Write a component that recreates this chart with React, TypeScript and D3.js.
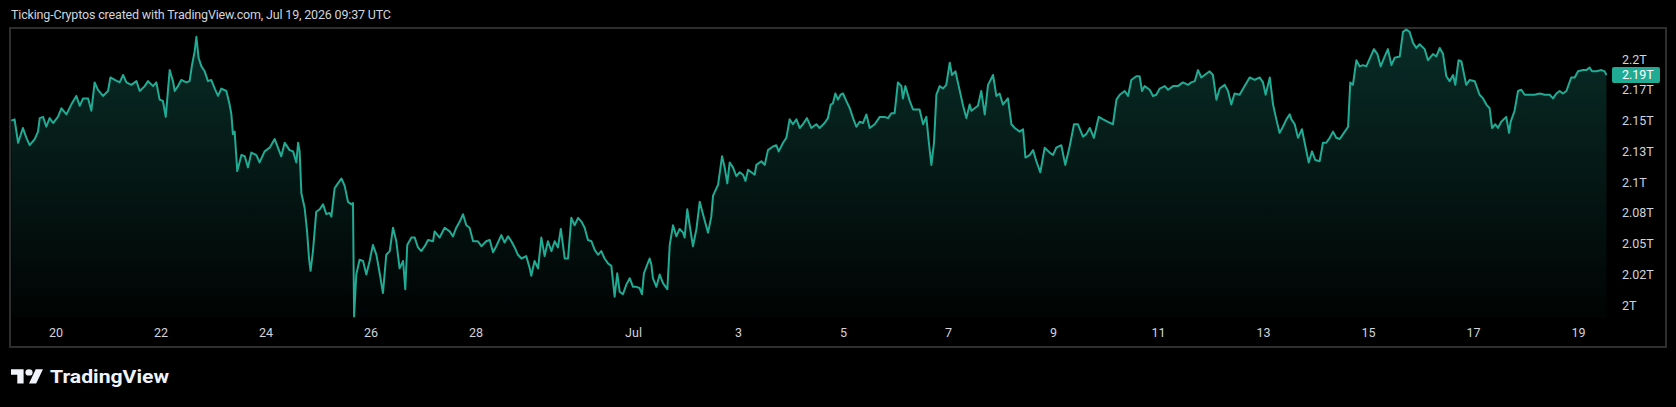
import * as d3 from "d3";
import React, { useEffect, useRef } from "react";

const WIDTH = 1676;
const HEIGHT = 407;

const START = Date.UTC(2026, 5, 19);
const JUL1 = Date.UTC(2026, 6, 1);

// hours since Jun 19 00:00 UTC
const hours = [
  3.8, 5.3, 6.9, 9.1, 10.7, 12.2, 14.5, 16.0, 16.8, 18.3, 19.8, 21.3, 22.9, 25.1, 26.7, 29.0, 31.2, 33.5, 35.1, 36.6,
  38.9, 40.4, 41.9, 43.4, 45.7, 48.0, 49.1, 51.1, 53.3, 54.9, 56.4, 58.7, 61.0, 62.5, 64.8, 66.3, 68.6, 70.1, 71.6, 73.1,
  74.4, 76.2, 77.7, 78.5, 80.0, 81.5, 83.8, 85.3, 86.4, 87.6, 88.4, 89.4, 90.7, 92.2, 93.7, 95.2, 96.8, 98.3, 99.8, 102.1,
  103.6, 104.4, 105.1, 105.9, 107.1, 109.0, 110.5, 112.0, 113.5, 115.8, 117.3, 119.6, 121.9, 124.2, 125.7, 127.2, 128.8, 131.0, 132.6, 134.1,
  134.9, 135.6, 136.4, 137.9, 139.0, 139.9, 140.6, 141.7, 143.2, 144.8, 146.3, 147.8, 149.3,
  150.1, 151.6, 153.1, 154.7, 156.2, 157.7, 159.2, 160.0, 160.5, 161.5, 163.0, 164.6, 166.1, 167.6, 169.1, 170.7, 172.2, 173.7, 175.2, 176.8,
  178.3, 179.8, 181.3, 182.9, 183.9, 184.8, 186.7, 188.2, 189.7, 191.2, 192.8, 194.3, 196.6, 197.3, 199.6, 201.9, 204.2, 205.7, 207.2, 208.8,
  210.3, 211.8, 213.3, 214.9, 217.1, 218.7, 220.9, 222.5, 224.0, 225.5, 227.8, 229.3, 230.9, 232.4, 233.9, 235.4, 237.0, 239.2, 240.8, 241.5,
  243.0, 244.6, 246.1, 247.6, 249.1, 250.7, 252.2, 253.7, 255.0, 256.8, 258.3, 259.8, 261.3, 262.9, 264.4, 265.9, 267.4, 269.0, 270.5, 272.0,
  273.5, 275.0, 276.6, 278.1, 279.6, 280.8, 281.9, 283.4, 285.0, 286.5, 288.0, 289.5, 291.0, 292.1, 293.0, 294.5, 295.6,
  296.4, 297.1, 298.7, 300.2, 301.7, 303.7, 304.8, 306.3, 307.8, 309.3, 310.9, 311.6, 312.8, 313.9, 315.4, 317.0, 318.5, 320.0, 322.3, 323.8,
  324.6, 326.9, 328.7, 329.9, 331.1, 332.2, 333.7, 335.2, 336.8, 338.3, 339.4, 340.6, 342.1, 343.6, 344.4, 346.7, 348.2, 349.7, 352.0, 353.5,
  354.6, 356.6, 358.1, 359.6, 361.1, 362.7, 364.2, 365.7, 367.5, 369.5, 371.8, 373.3, 375.6, 377.1, 378.4, 379.4, 380.5, 381.7, 382.9, 384.0,
  385.5, 387.1, 388.6, 390.1, 391.6, 393.1, 394.7, 396.2, 398.5, 400.8, 403.0, 404.6, 406.1, 407.6, 409.1, 410.7, 411.4, 412.5, 414.5, 416.0,
  417.5, 419.0, 420.6, 422.1, 423.2, 424.4, 425.6, 426.7, 428.2, 429.7, 431.2, 432.8, 433.8, 435.4, 436.9, 438.9, 440.4, 441.9,
  442.7, 444.2, 445.7, 447.2, 448.8, 450.3, 452.6, 454.1, 455.6, 457.1, 459.4, 461.0, 462.5, 464.8, 466.3, 467.4, 469.3, 470.9, 472.4, 474.2,
  476.2, 478.5, 480.0, 481.5, 483.8, 485.6, 487.6, 489.6, 491.4, 493.7, 495.2, 496.8, 498.7, 500.9, 502.9, 505.1, 507.4, 509.0, 510.5, 512.8,
  514.3, 515.8, 518.1, 519.6, 520.7, 521.9, 524.2, 525.7, 527.2, 528.8, 531.1, 532.6, 534.9, 537.1, 539.4, 541.7, 543.2, 544.8, 546.3, 547.8,
  549.3, 551.6, 553.1, 554.7, 556.2, 558.5, 560.0, 561.5, 563.0, 565.3, 567.6, 569.9, 572.2, 574.5, 576.0, 577.2, 579.1, 580.6, 582.1, 583.6,
  585.1, 586.7, 588.2,
  589.0, 590.5, 592.0, 593.8, 595.4, 596.9, 598.4, 599.9, 601.9, 603.4, 604.9, 606.5, 608.0, 609.5, 611.1, 612.6, 614.9, 615.9, 617.1, 618.7,
  620.2, 621.7, 623.2, 625.2, 626.7, 628.3, 629.8, 631.6, 633.1, 634.7, 636.2, 638.5, 640.0, 641.5, 643.0, 644.6, 646.1, 647.6, 649.9, 651.4,
  653.7, 655.2, 656.8, 658.3, 659.8, 661.3, 662.9, 663.9, 665.4, 666.7, 668.9, 670.5, 672.8, 675.0, 676.6, 678.1, 679.6, 680.7, 682.2, 683.4,
  684.9, 687.2, 688.5, 689.2, 691.0, 692.6, 694.1, 695.6, 697.9, 700.2, 702.5, 704.8, 707.0, 708.6, 710.1, 711.6, 713.1, 714.7, 716.9, 718.5,
  720.0, 722.3, 723.8, 725.3, 726.4, 728.4, 730.7, 732.2, 733.0,
];

// total crypto market cap, trillions USD
const capT = [
  2.150, 2.151, 2.132, 2.144, 2.136, 2.130, 2.135, 2.141, 2.152, 2.153, 2.145, 2.152, 2.148, 2.153, 2.160, 2.155, 2.163, 2.170, 2.162, 2.168,
  2.168, 2.158, 2.181, 2.175, 2.170, 2.174, 2.185, 2.183, 2.181, 2.187, 2.181, 2.179, 2.182, 2.174, 2.178, 2.182, 2.178, 2.181, 2.167, 2.166,
  2.153, 2.191, 2.182, 2.174, 2.178, 2.183, 2.181, 2.182, 2.195, 2.206, 2.218, 2.201, 2.194, 2.190, 2.182, 2.183, 2.176, 2.170, 2.176, 2.174,
  2.163, 2.155, 2.139, 2.141, 2.109, 2.122, 2.121, 2.112, 2.124, 2.122, 2.116, 2.125, 2.128, 2.135, 2.128, 2.121, 2.132, 2.126, 2.125, 2.116,
  2.132, 2.125, 2.091, 2.079, 2.060, 2.038, 2.028, 2.044, 2.076, 2.078, 2.082, 2.074, 2.075,
  2.072, 2.095, 2.099, 2.103, 2.097, 2.084, 2.082, 2.083, 1.991, 2.025, 2.037, 2.036, 2.025, 2.036, 2.049, 2.041, 2.026, 2.010, 2.041, 2.044,
  2.063, 2.052, 2.030, 2.036, 2.013, 2.049, 2.055, 2.055, 2.047, 2.044, 2.048, 2.053, 2.052, 2.060, 2.055, 2.063, 2.060, 2.056, 2.063, 2.068,
  2.074, 2.065, 2.063, 2.052, 2.052, 2.048, 2.052, 2.053, 2.043, 2.048, 2.057, 2.051, 2.056, 2.052, 2.047, 2.041, 2.038, 2.040, 2.030, 2.024,
  2.036, 2.030, 2.055, 2.040, 2.052, 2.044, 2.052, 2.047, 2.062, 2.038, 2.038, 2.071, 2.065, 2.071, 2.068, 2.063, 2.053, 2.052, 2.045, 2.041,
  2.044, 2.038, 2.034, 2.032, 2.007, 2.026, 2.011, 2.009, 2.017, 2.022, 2.015, 2.015, 2.014, 2.009, 2.026, 2.033, 2.038,
  2.033, 2.022, 2.015, 2.025, 2.018, 2.013, 2.049, 2.065, 2.056, 2.062, 2.059, 2.055, 2.078, 2.065, 2.048, 2.062, 2.084, 2.074, 2.059, 2.072,
  2.089, 2.098, 2.121, 2.112, 2.099, 2.116, 2.112, 2.105, 2.108, 2.106, 2.101, 2.110, 2.108, 2.106, 2.114, 2.117, 2.114, 2.126, 2.129, 2.130,
  2.125, 2.132, 2.136, 2.151, 2.147, 2.151, 2.144, 2.147, 2.152, 2.144, 2.147, 2.144, 2.148, 2.152, 2.163, 2.164, 2.172, 2.167, 2.171, 2.172,
  2.166, 2.160, 2.152, 2.145, 2.149, 2.148, 2.155, 2.144, 2.147, 2.153, 2.153, 2.152, 2.156, 2.156, 2.181, 2.178, 2.168, 2.178, 2.166, 2.159,
  2.159, 2.159, 2.147, 2.153, 2.133, 2.114, 2.132, 2.171, 2.178, 2.176, 2.179, 2.197, 2.187, 2.190, 2.178, 2.162, 2.152, 2.163,
  2.158, 2.160, 2.162, 2.174, 2.155, 2.179, 2.187, 2.170, 2.172, 2.163, 2.168, 2.147, 2.144, 2.141, 2.143, 2.120, 2.122, 2.126, 2.117, 2.108,
  2.128, 2.124, 2.122, 2.128, 2.130, 2.114, 2.129, 2.147, 2.147, 2.137, 2.139, 2.144, 2.136, 2.153, 2.151, 2.149, 2.147, 2.167, 2.171, 2.174,
  2.170, 2.183, 2.186, 2.186, 2.174, 2.178, 2.175, 2.170, 2.171, 2.176, 2.178, 2.175, 2.178, 2.178, 2.181, 2.179, 2.181, 2.182, 2.191, 2.185,
  2.187, 2.190, 2.187, 2.167, 2.176, 2.179, 2.174, 2.163, 2.172, 2.171, 2.178, 2.185, 2.183, 2.185, 2.181, 2.171, 2.185, 2.163, 2.151, 2.140,
  2.145, 2.151, 2.155,
  2.151, 2.147, 2.136, 2.143, 2.129, 2.116, 2.125, 2.118, 2.117, 2.132, 2.132, 2.136, 2.141, 2.136, 2.135, 2.139, 2.145, 2.181, 2.179, 2.199,
  2.194, 2.195, 2.194, 2.202, 2.208, 2.204, 2.194, 2.202, 2.208, 2.195, 2.201, 2.202, 2.222, 2.224, 2.222, 2.213, 2.209, 2.212, 2.208, 2.199,
  2.204, 2.202, 2.209, 2.204, 2.186, 2.182, 2.187, 2.179, 2.199, 2.198, 2.179, 2.183, 2.182, 2.171, 2.168, 2.163, 2.160, 2.144, 2.147, 2.144,
  2.149, 2.153, 2.140, 2.149, 2.158, 2.174, 2.175, 2.171, 2.171, 2.171, 2.172, 2.171, 2.171, 2.168, 2.172, 2.174, 2.172, 2.174, 2.185, 2.185,
  2.190, 2.191, 2.191, 2.193, 2.190, 2.190, 2.191, 2.190, 2.187,
];

const priceTicks = [2.0, 2.025, 2.05, 2.075, 2.1, 2.125, 2.15, 2.175, 2.2];
const priceTickLabels = ["2T", "2.02T", "2.05T", "2.08T", "2.1T", "2.13T", "2.15T", "2.17T", "2.2T"];

const dateTicks = [
  "2026-06-20", "2026-06-22", "2026-06-24", "2026-06-26", "2026-06-28", "2026-07-01", "2026-07-03",
  "2026-07-05", "2026-07-07", "2026-07-09", "2026-07-11", "2026-07-13", "2026-07-15", "2026-07-17", "2026-07-19",
];
const dateTickLabels = ["20", "22", "24", "26", "28", "Jul", "3", "5", "7", "9", "11", "13", "15", "17", "19"];

const lastLabel = "2.19T";
const title = "Ticking-Cryptos created with TradingView.com, Jul 19, 2026 09:37 UTC";

const FONT = "Roboto, 'Liberation Sans', sans-serif";
const TEXT = "#d1d4dc";
const TEAL = "#22ab94";

interface Point {
  t: Date;
  v: number;
}

export default function App() {
  const priceAxisRef = useRef<SVGGElement>(null);
  const timeAxisRef = useRef<SVGGElement>(null);

  const pane = { left: 11, right: 1607, top: 29, bottom: 318 };

  const data: Point[] = hours.map((h, i) => ({ t: new Date(START + h * 3600e3), v: capT[i] }));

  const xScale = d3.scaleUtc().domain([START, JUL1]).range([3, 633]);
  const yScale = d3.scaleLinear().domain([2.0, 2.2]).range([305.3, 59]);

  const line = d3.line<Point>()
    .x((d) => xScale(d.t))
    .y((d) => yScale(d.v));

  const area = d3.area<Point>()
    .x((d) => xScale(d.t))
    .y0(pane.bottom)
    .y1((d) => yScale(d.v));

  const lastY = yScale(capT[capT.length - 1]);

  useEffect(() => {
    const priceAxis = d3.axisRight(yScale)
      .tickValues(priceTicks)
      .tickFormat((_, i) => priceTickLabels[i])
      .tickSize(0)
      .tickPadding(0);

    const timeAxis = d3.axisBottom(xScale)
      .tickValues(dateTicks.map((s) => new Date(s + "T00:00:00Z")))
      .tickFormat((_, i) => dateTickLabels[i])
      .tickSize(0)
      .tickPadding(0);

    const pg = d3.select(priceAxisRef.current);
    pg.call(priceAxis as any);
    pg.select(".domain").remove();
    pg.attr("font-family", FONT).attr("font-size", 12.5);
    pg.selectAll("text").attr("fill", TEXT);

    const tg = d3.select(timeAxisRef.current);
    tg.call(timeAxis as any);
    tg.select(".domain").remove();
    tg.attr("font-family", FONT).attr("font-size", 12.5);
    tg.selectAll("text").attr("fill", TEXT).attr("dy", "0.35em");
  }, []);

  return (
    <svg width={WIDTH} height={HEIGHT} style={{ display: "block" }}>
      <style>{`body { margin: 0; background: #000; }`}</style>
      <defs>
        <linearGradient id="areaFill" gradientUnits="userSpaceOnUse" x1={0} y1={pane.top} x2={0} y2={pane.bottom}>
          <stop offset="0%" stopColor={TEAL} stopOpacity={0.26} />
          <stop offset="100%" stopColor={TEAL} stopOpacity={0.02} />
        </linearGradient>
      </defs>
      <rect x={0} y={0} width={WIDTH} height={HEIGHT} fill="#000" />

      <text x={11} y={19} fill={TEXT} fontFamily={FONT} fontSize={12.5} textLength={380} lengthAdjust="spacing">
        {title}
      </text>

      <rect x={10} y={28} width={1656} height={319} fill="none" stroke="#2e2e2e" strokeWidth={2} />

      <path d={area(data) ?? ""} fill="url(#areaFill)" />
      <path d={line(data) ?? ""} fill="none" stroke={TEAL} strokeWidth={2} strokeLinejoin="round" />

      <g ref={priceAxisRef} transform="translate(1622,0)" />
      <g ref={timeAxisRef} transform="translate(0,333)" />

      <rect x={1612} y={lastY - 8} width={48} height={16} rx={2} fill={TEAL} />
      <text x={1622} y={lastY} dy="0.35em" fill="#fff" fontFamily={FONT} fontSize={12.5}>
        {lastLabel}
      </text>

      <g transform="translate(11,366) scale(0.9,0.8)" fill="#f0f3fa">
        <path d="M14 22H7V11H0V4h14v18zM28 22h-8l7.5-18h8L28 22z" />
        <circle cx={20} cy={8} r={4} />
      </g>
      <text x={50} y={383} fill="#f0f3fa" fontFamily={FONT} fontWeight="bold" fontSize={19} textLength={119} lengthAdjust="spacingAndGlyphs">
        TradingView
      </text>
    </svg>
  );
}
